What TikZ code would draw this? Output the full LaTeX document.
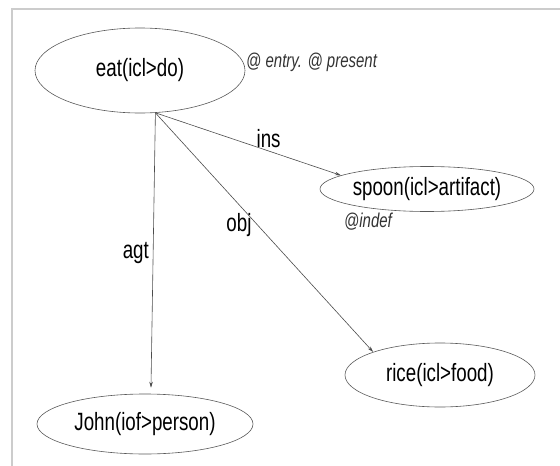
\documentclass[tikz,border=0pt]{standalone}
\usepackage{fontspec}
\setmainfont{Liberation Sans}[FakeStretch=0.75]
\usetikzlibrary{shapes.geometric,arrows.meta}
\begin{document}
\begin{tikzpicture}[x=1pt,y=-1pt,
  concept/.style={draw=black!65,line width=0.6pt,ellipse,inner sep=0pt,font=\fontsize{25}{25}\selectfont},
  rel/.style={draw=black!70,line width=0.6pt,-{Stealth[length=6pt,width=3.5pt]}},
  rellabel/.style={inner sep=1pt,font=\fontsize{25}{25}\selectfont},
  attr/.style={inner sep=1pt,font=\fontsize{20}{20}\selectfont\itshape,text=black!80}]
\useasboundingbox (0,0) rectangle (560,466);
\draw[black!20,line width=1.5pt] (12,466) -- (12,9) -- (560,9);
\node[concept,minimum width=210pt,minimum height=85pt] (eat) at (140,70.5) {eat(icl>do)};
\node[concept,minimum width=214pt,minimum height=45pt] (spoon) at (427,189) {spoon(icl>artifact)};
\node[concept,minimum width=190pt,minimum height=64pt] (rice) at (440,375) {rice(icl>food)};
\node[concept,minimum width=216pt,minimum height=60pt] (john) at (145,424) {John(iof>person)};
\node[attr,anchor=west] (eatattr) at (245,62) {@ entry. @ present};
\node[attr] (spoonattr) at (368,222) {@indef};
\draw[rel] (eat.-70) -- (spoon.171) node[rellabel,pos=0.61,above=2pt] (ins) {ins};
\draw[rel] (eat.-70) -- (rice.161) node[rellabel,pos=0.47,left=5pt] (obj) {obj};
\draw[rel,shorten >=6pt] (eat.-70) -- (john.79) node[rellabel,pos=0.5,left=3pt] (agt) {agt};
\end{tikzpicture}
\end{document}
